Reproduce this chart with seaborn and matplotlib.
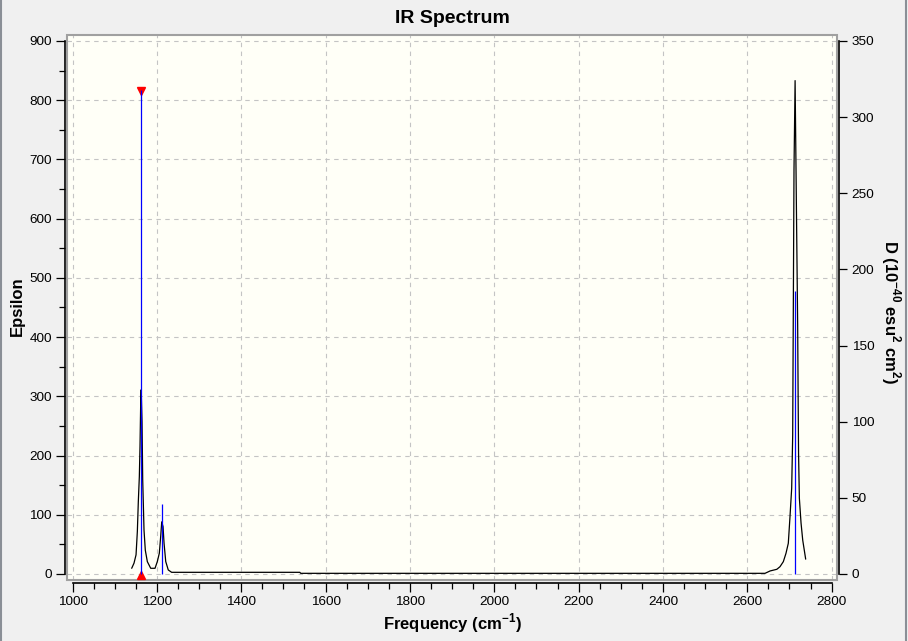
import matplotlib
matplotlib.use("Agg")
import matplotlib.pyplot as plt
import matplotlib.ticker as mticker
from matplotlib.patches import Rectangle
from matplotlib.lines import Line2D
import seaborn as sns
import pandas as pd

# spectrum curve (frequency in cm-1, epsilon)
freq = [1140.3, 1145.8, 1150.6, 1153.7, 1156.0, 1158.4, 1160.0, 1161.7, 1162.8,
        1164.8, 1166.4, 1169.5, 1172.6, 1177.4, 1185.4, 1195.6, 1201.0, 1205.8,
        1209.0, 1211.5, 1214.6, 1217.0, 1221.0, 1227.0, 1235.0, 1539.0, 1541.0,
        2642.0, 2654.0, 2670.0, 2677.5, 2685.4, 2691.7, 2697.2, 2701.2, 2705.2,
        2707.6, 2710.7, 2713.3, 2716.6, 2719.4, 2720.5, 2721.5, 2723.4, 2727.4,
        2731.4, 2738.4]
epsilon = [9.6, 18.3, 32.3, 71.7, 122, 164, 215, 291, 311,
           257, 159, 74, 40, 20.8, 9.6, 9.6, 20.8, 35,
           63, 88, 80, 52, 21, 6.8, 2.8, 2.8, 1.1,
           1.1, 5.1, 7.9, 12.3, 20.8, 34.9, 51.8, 96.7, 144.6,
           234.6, 683, 833, 607, 420, 300, 204, 128, 86,
           57, 25]

# stick intensities (right axis, 10^-40 esu^2 cm^2)
stick_freq = [1163.1, 1212.9, 2713.7]
stick_d = [318, 46, 186]
selected = 1163.1

spec = pd.DataFrame({"freq": freq, "epsilon": epsilon})

sns.set_theme(style="white")
plt.rcParams["font.family"] = ["Liberation Sans", "DejaVu Sans"]
plt.rcParams["mathtext.fontset"] = "custom"
plt.rcParams["mathtext.rm"] = "Liberation Sans"
plt.rcParams["mathtext.bf"] = "Liberation Sans:bold"
plt.rcParams["text.color"] = "black"
plt.rcParams["axes.labelcolor"] = "black"
plt.rcParams["xtick.color"] = "black"
plt.rcParams["ytick.color"] = "black"

fig = plt.figure(figsize=(9.08, 6.41), dpi=100, facecolor="#f0f0f0")
ax = fig.add_axes([0.0743, 0.0944, 0.8472, 0.851])
ax.set_facecolor("#fffff7")

sns.lineplot(data=spec, x="freq", y="epsilon", ax=ax, sort=False,
             estimator=None, color="black", lw=0.9, zorder=3)

ax.set_xlim(988, 2812)
ax.set_ylim(-11, 910)
ax.xaxis.set_major_locator(mticker.MultipleLocator(200))
ax.xaxis.set_minor_locator(mticker.MultipleLocator(50))
ax.yaxis.set_major_locator(mticker.MultipleLocator(100))
ax.yaxis.set_minor_locator(mticker.MultipleLocator(50))
ax.grid(True, which="major", color="#c4c4c4", ls=(0, (4, 4)), lw=0.8)
ax.set_xlabel("")
ax.set_ylabel("")

for side in ["top", "right"]:
    ax.spines[side].set_visible(False)
ax.spines["left"].set_position(("outward", 1.8))
ax.spines["left"].set_bounds(0, 900)
ax.spines["bottom"].set_position(("outward", 1.8))
ax.spines["bottom"].set_bounds(1000, 2800)
for side in ["left", "bottom"]:
    ax.spines[side].set_color("black")
    ax.spines[side].set_linewidth(1.2)

ax.tick_params(which="major", direction="out", length=6.5, width=0.9,
               color="black", labelsize=9.7, labelcolor="black", pad=3,
               left=True, bottom=True)
ax.tick_params(which="minor", direction="out", length=4.3, width=0.9,
               color="black", left=True, bottom=True)

# grey frame of the plot area
ax.add_patch(Rectangle((0, 0), 1, 1, transform=ax.transAxes, fill=False,
                       edgecolor="#a0a0a0", lw=1.5, clip_on=False, zorder=5))

# right axis with the sticks
ax2 = ax.twinx()
ax2.set_ylim(-11 * 350 / 900, 910 * 350 / 900)
ax2.vlines(stick_freq, 0, stick_d, color="#0000ff", lw=0.9, zorder=4)
ax2.plot([selected], [317], marker="v", color="red", ms=5.5, ls="none")
ax2.plot([selected], [-1], marker="^", color="red", ms=5.5, ls="none")
ax2.yaxis.set_major_locator(mticker.MultipleLocator(50))
for side in ["top", "left", "bottom"]:
    ax2.spines[side].set_visible(False)
ax2.spines["right"].set_position(("outward", 1.8))
ax2.spines["right"].set_bounds(0, 350)
ax2.spines["right"].set_color("black")
ax2.spines["right"].set_linewidth(1.2)
ax2.tick_params(axis="y", which="major", direction="out", length=5.5,
                width=0.9, color="black", labelsize=9.7, labelcolor="black",
                pad=3.5, right=True)
ax2.grid(False)

fig.text(0.4978, 0.971, "IR Spectrum", ha="center", va="center",
         fontsize=14, fontweight="bold", color="black")
fig.text(0.4978, 0.028, r"Frequency (cm$^{\mathbf{-1}}$)", ha="center",
         va="center", fontsize=12, fontweight="bold", color="black")
fig.text(0.0187, 0.5226, "Epsilon", ha="center", va="center", rotation=90,
         fontsize=12, fontweight="bold", color="black")
fig.text(0.981, 0.513,
         r"D (10$^{\mathbf{-40}}$ esu$^{\mathbf{2}}$ cm$^{\mathbf{2}}$)",
         ha="center", va="center", rotation=270, fontsize=12,
         fontweight="bold", color="black")

# window borders seen at the edges of the screenshot
fig.add_artist(Line2D([0.001, 0.001], [0, 1], color="#8a8f96", lw=1.5))
fig.add_artist(Line2D([0.998, 0.998], [0, 1], color="#8a8f96", lw=1.5))

fig.savefig("out.png", dpi=100, facecolor=fig.get_facecolor())
